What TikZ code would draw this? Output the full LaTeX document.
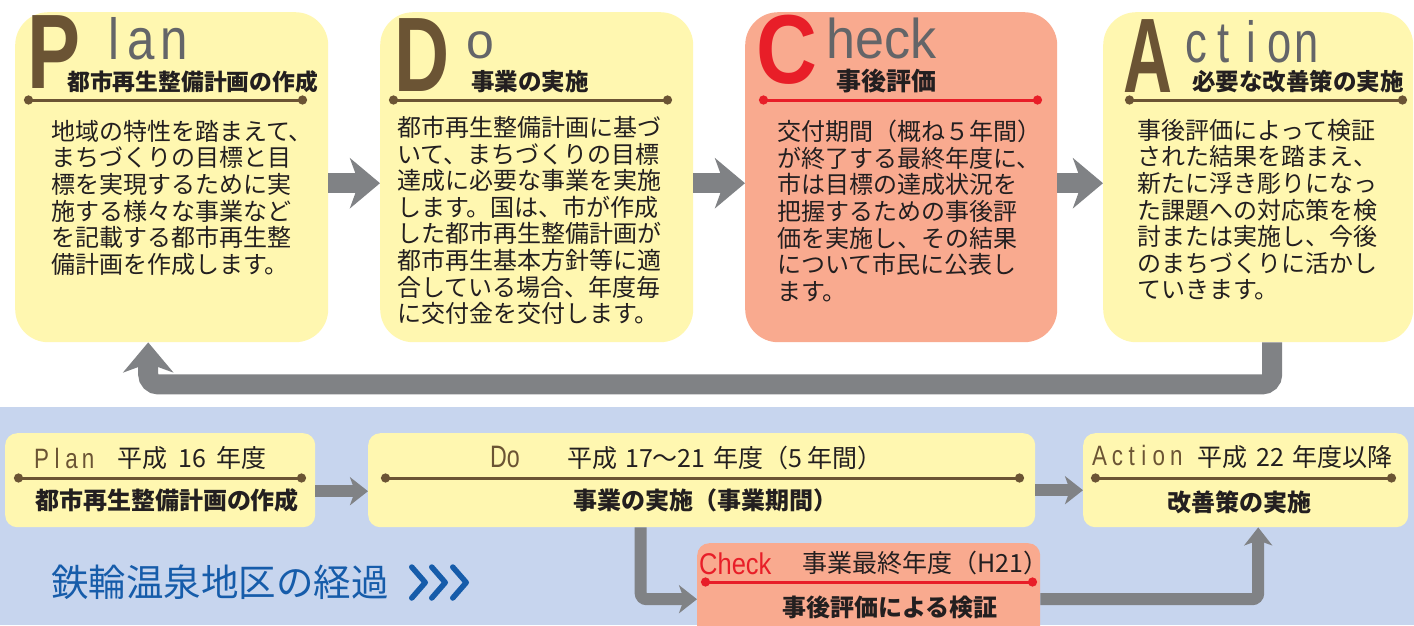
\documentclass[tikz,border=0pt]{standalone}
\usepackage{fontspec}
\setmainfont{Noto Sans CJK JP}
\newfontfamily\lat{Liberation Sans}
\usetikzlibrary{arrows.meta,calc}
\definecolor{boxyellow}{RGB}{255,247,176}
\definecolor{boxsalmon}{RGB}{249,170,143}
\definecolor{band}{RGB}{199,213,238}
\definecolor{arrowgray}{RGB}{128,130,133}
\definecolor{brownc}{RGB}{107,84,52}
\definecolor{redc}{RGB}{232,30,40}
\definecolor{grayt}{RGB}{100,101,104}
\definecolor{inkc}{RGB}{35,31,32}
\definecolor{titleblue}{RGB}{22,92,170}
\tikzset{
  bigbox/.style={anchor=north west, minimum width=313pt, minimum height=330pt, rounded corners=33pt, inner sep=0pt},
  smallbox/.style={anchor=north west, minimum height=94pt, rounded corners=12pt, inner sep=0pt},
  bodytext/.style={anchor=north west, inner sep=0pt, align=left, text=inkc, font=\fontsize{24}{26.6}\selectfont},
  subtitle/.style={anchor=west, inner sep=0pt, text=inkc, font=\fontsize{23.5}{24}\selectfont\bfseries},
  bigletter/.style={anchor=base west, inner sep=0pt, font=\lat\bfseries\fontsize{106}{106}\selectfont},
  grayword/.style={anchor=base west, inner sep=0pt, text=grayt},
  divider/.style={line width=3pt, {Circle[length=9pt]}-{Circle[length=9pt]}},
  bigarrow/.style={draw=arrowgray, line width=20pt, -{Stealth[length=30pt,width=50pt,inset=9pt]}},
  smallarrow/.style={draw=arrowgray, line width=12pt, -{Stealth[length=18pt,width=28pt,inset=5pt]}},
  label/.style={anchor=west, inner sep=0pt, text=inkc, font=\fontsize{25}{25}\selectfont},
  boldlabel/.style={inner sep=0pt, text=inkc, font=\fontsize{24}{24}\selectfont\bfseries},
}
\begin{document}
\begin{tikzpicture}[x=1pt,y=-1pt]
\useasboundingbox (0,0) rectangle (1414,625);
\fill[white] (0,0) rectangle (1414,625);
\fill[band] (0,407) rectangle (1414,625);

% ---------- top boxes ----------
\node[bigbox, fill=boxyellow] (plan) at (15,12) {};
\node[bigbox, fill=boxyellow] (do) at (380,12) {};
\node[bigbox, fill=boxsalmon, minimum width=312pt] (check) at (745,12) {};
\node[bigbox, fill=boxyellow, minimum width=310pt] (action) at (1103,12) {};

% Plan
\node[bigletter, text=brownc] (pL) at (27,88) {\scalebox{0.75}[1]{P}};
\node[grayword, font=\lat\fontsize{58}{58}\selectfont] (pW) at (108,59) {\scalebox{0.85}[1]{l\kern10pt a\kern6pt n}};
\node[subtitle, font=\fontsize{22.8}{24}\selectfont\bfseries] (pS) at (67,82) {都市再生整備計画の作成};
\draw[divider, brownc] (24,100) -- (307,100);
\node[bodytext] (pT) at (51,120) {地域の特性を踏まえて、\\まちづくりの目標と目\\標を実現するために実\\施する様々な事業など\\を記載する都市再生整\\備計画を作成します。};

% Do
\node[bigletter, text=brownc] (dL) at (394,91) {\scalebox{0.72}[1]{D}};
\node[grayword, font=\lat\fontsize{50}{50}\selectfont] (dW) at (466,58) {o};
\node[subtitle] (dS) at (471,82) {事業の実施};
\draw[divider, brownc] (389,100) -- (672,100);
\node[bodytext] (dT) at (397,116) {都市再生整備計画に基づ\\いて、まちづくりの目標\\達成に必要な事業を実施\\します。国は、市が作成\\した都市再生整備計画が\\都市再生基本方針等に適\\合している場合、年度毎\\に交付金を交付します。};

% Check
\node[bigletter, text=redc, font=\lat\bfseries\fontsize{98}{98}\selectfont] (cL) at (756,83) {\scalebox{0.86}[1]{C}};
\node[grayword, font=\lat\fontsize{56}{56}\selectfont] (cW) at (826.5,58) {\scalebox{0.93}[1]{heck}};
\node[subtitle, font=\fontsize{25}{25}\selectfont\bfseries] (cS) at (836,81) {事後評価};
\draw[divider, redc] (759,100) -- (1042,100);
\node[bodytext] (cT) at (777,120) {交付期間（概ね５年間）\\が終了する最終年度に、\\市は目標の達成状況を\\把握するための事後評\\価を実施し、その結果\\について市民に公表し\\ます。};

% Action
\node[bigletter, text=brownc] (aL) at (1123,92) {\scalebox{0.64}[1]{A}};
\node[grayword, font=\lat\fontsize{58}{58}\selectfont] (aW) at (1182,62) {\scalebox{0.75}[1]{\makebox[37pt]{c}\makebox[37pt]{t}\makebox[37pt]{i}\makebox[37pt]{o}\makebox[37pt]{n}}};
\node[subtitle] (aS) at (1192,82) {必要な改善策の実施};
\draw[divider, brownc] (1125,100) -- (1407,100);
\node[bodytext] (aT) at (1137,119) {事後評価によって検証\\された結果を踏まえ、\\新たに浮き彫りになっ\\た課題への対応策を検\\討または実施し、今後\\のまちづくりに活かし\\ていきます。};

% top arrows
\draw[bigarrow] ([yshift=-6pt]plan.east) -- ([yshift=-6pt]do.west);
\draw[bigarrow] ([yshift=-6pt]do.east) -- ([yshift=-6pt]check.west);
\draw[bigarrow] ([yshift=-6pt]check.east) -- ([yshift=-6pt]action.west);
\draw[bigarrow, rounded corners=10pt] ([xshift=14pt]action.south) -- ++(0,42) -| ([xshift=-23.5pt]plan.south);

% ---------- bottom ----------
\node[smallbox, fill=boxyellow, minimum width=310pt] (pb) at (5,433) {};
\node[smallbox, fill=boxyellow, minimum width=667pt] (db) at (368,433) {};
\node[smallbox, fill=boxyellow, minimum width=325pt] (ab) at (1083,433) {};
\node[smallbox, fill=boxsalmon, minimum width=343pt, minimum height=112pt] (cb) at (697,543) {};

% Plan bottom
\node[grayword, text=brownc, font=\lat\fontsize{28}{28}\selectfont] (pbW) at (34,468) {\scalebox{0.8}[1]{P\kern7pt l\kern7pt a\kern5pt n}};
\node[label] (pbY) at (117,458) {平成\kern11pt 16\kern11pt 年度};
\draw[divider, brownc] (14,478) -- (306,478);
\node[boldlabel] (pbS) at (167,500) {都市再生整備計画の作成};

% Do bottom
\node[grayword, text=brownc, font=\lat\fontsize{31}{31}\selectfont] (dbW) at (490,467) {\scalebox{0.75}[1]{Do}};
\node[label] (dbY) at (567,458) {平成\kern8pt 17～21\kern8pt 年度（5\kern5pt 年間）};
\draw[divider, brownc] (381,478) -- (1024,478);
\node[boldlabel] (dbS) at (705,500) {事業の実施（事業期間）};

% Action bottom
\node[grayword, text=brownc, font=\lat\fontsize{28}{28}\selectfont] (abW) at (1092,465) {\scalebox{0.8}[1]{A\kern6pt c\kern7pt t\kern8pt i\kern8pt o\kern6pt n}};
\node[label] (abY) at (1197,457) {平成\kern9pt 22\kern9pt 年度以降};
\draw[divider, brownc] (1091,478) -- (1396,478);
\node[boldlabel] (abS) at (1239,502) {改善策の実施};

% Check bottom
\node[grayword, text=redc, font=\lat\fontsize{30}{30}\selectfont] (cbW) at (699,574) {\scalebox{0.85}[1]{Check}};
\node[label] (cbY) at (802,563) {事業最終年度（H21）};
\draw[divider, redc] (701,582) -- (1037,582);
\node[boldlabel] (cbS) at (890,607) {事後評価による検証};

% bottom arrows
\draw[smallarrow] ([yshift=-11pt]pb.east) -- ([yshift=-11pt]db.west);
\draw[smallarrow] ([yshift=-10pt]db.east) -- ([yshift=-10pt]ab.west);
\draw[smallarrow, rounded corners=6pt] ([xshift=-61pt]db.south) |- (cb.west);
\draw[smallarrow, rounded corners=6pt] (cb.east) -| ([xshift=12.5pt]ab.south);

% title
\node[anchor=west, inner sep=0pt, text=titleblue, font=\fontsize{37.5}{37.5}\selectfont] (title) at (51,582) {鉄輪温泉地区の経過};
\foreach \cx in {411.75,431.75,452.75}
  \draw[titleblue, line width=5.5pt, line cap=round, line join=round] (\cx,567) -- (\cx+13.5,582.5) -- (\cx,598);
\end{tikzpicture}
\end{document}
